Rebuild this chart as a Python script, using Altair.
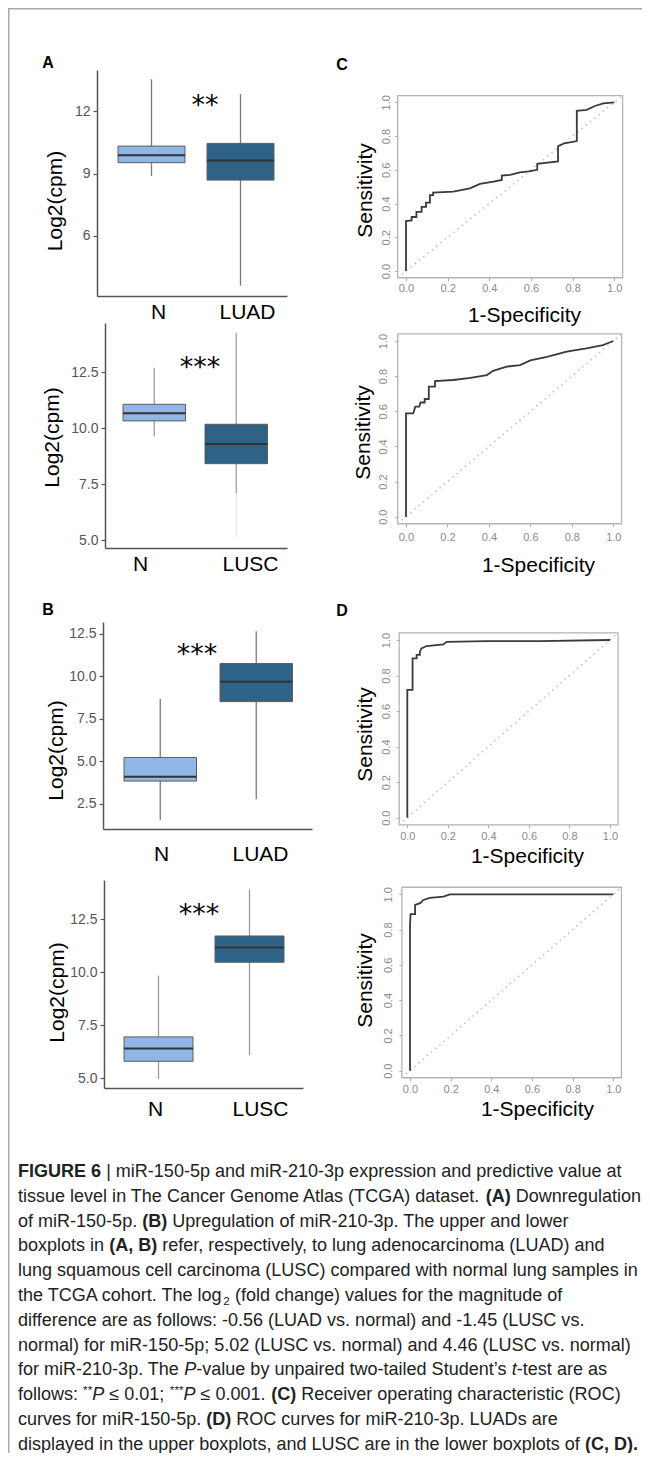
import altair as alt
import pandas as pd

# ---------------------------------------------------------------- data
# (A) miR-150-5p boxplots: upper N vs LUAD, lower N vs LUSC
A1_CATS = ["N", "LUAD"]
A1_Q1 = [9.53, 8.69]
A1_MED = [9.89, 9.63]
A1_Q3 = [10.33, 10.46]
A1_LO = [8.89, 3.60]
A1_HI = [13.55, 12.84]
A1_TICKS = [6, 9, 12]

A2_CATS = ["N", "LUSC"]
A2_Q1 = [10.33, 8.42]
A2_MED = [10.67, 9.30]
A2_Q3 = [11.07, 10.18]
A2_LO = [9.63, 7.10]
A2_HI = [12.70, 14.27]
A2_TAIL_CAT = ["LUSC"]
A2_TAIL_LO = [5.16]
A2_TAIL_HI = [7.10]
A2_TICKS = [5.0, 7.5, 10.0, 12.5]

# (B) miR-210-3p boxplots
B1_CATS = ["N", "LUAD"]
B1_Q1 = [3.83, 8.50]
B1_MED = [4.08, 9.67]
B1_Q3 = [5.22, 10.74]
B1_LO = [1.54, 2.77]
B1_HI = [8.67, 12.64]
B1_TICKS = [2.5, 5.0, 7.5, 10.0, 12.5]

B2_CATS = ["N", "LUSC"]
B2_Q1 = [5.80, 10.47]
B2_MED = [6.40, 11.17]
B2_Q3 = [6.95, 11.71]
B2_LO = [4.97, 6.08]
B2_HI = [9.84, 13.90]
B2_TICKS = [5.0, 7.5, 10.0, 12.5]

SIG = ["**", "***", "***", "***"]
LETTERS = ["A", "B", "C", "D"]

# (C) ROC miR-150-5p
C1_FPR = [0, 0, 0.027, 0.027, 0.05, 0.05, 0.075, 0.075, 0.096, 0.096, 0.115, 0.115, 0.13, 0.13,
          0.227, 0.307, 0.355, 0.42, 0.46, 0.46, 0.5, 0.547, 0.59, 0.63, 0.63, 0.73, 0.73,
          0.76, 0.82, 0.82, 0.867, 0.907, 0.947, 1.0]
C1_TPR = [0, 0.296, 0.30, 0.32, 0.32, 0.35, 0.35, 0.38, 0.38, 0.405, 0.405, 0.45, 0.45, 0.465,
          0.47, 0.49, 0.516, 0.53, 0.54, 0.565, 0.57, 0.585, 0.59, 0.60, 0.635, 0.65, 0.74,
          0.757, 0.77, 0.95, 0.955, 0.978, 0.994, 1.0]
C2_FPR = [0, 0, 0.035, 0.045, 0.064, 0.07, 0.09, 0.09, 0.11, 0.11, 0.14, 0.14, 0.228, 0.31,
          0.39, 0.42, 0.486, 0.55, 0.6, 0.68, 0.775, 0.87, 0.95, 1.0]
C2_TPR = [0, 0.588, 0.588, 0.626, 0.626, 0.65, 0.65, 0.67, 0.67, 0.74, 0.74, 0.772, 0.778, 0.79,
          0.806, 0.83, 0.854, 0.863, 0.89, 0.91, 0.94, 0.958, 0.977, 1.0]
# (D) ROC miR-210-3p
D1_FPR = [0, 0, 0.026, 0.026, 0.046, 0.046, 0.062, 0.062, 0.07, 0.095, 0.178, 0.194, 0.39,
          0.655, 1.0]
D1_TPR = [0, 0.719, 0.719, 0.897, 0.897, 0.916, 0.916, 0.934, 0.953, 0.966, 0.975, 0.99, 0.994,
          0.994, 1.0]
D2_FPR = [0, 0, 0.003, 0.025, 0.025, 0.05, 0.066, 0.098, 0.164, 0.197, 1.0]
D2_TPR = [0, 0.826, 0.888, 0.888, 0.94, 0.95, 0.968, 0.98, 0.987, 1.0, 1.0]
ROC_TICKS = [0.0, 0.2, 0.4, 0.6, 0.8, 1.0]
DIAG = [-0.04, 1.04]

CAPTION = [
    [("FIGURE 6", "b"), (" | miR-150-5p and miR-210-3p expression and predictive value at", "r")],
    [("tissue level in The Cancer Genome Atlas (TCGA) dataset. ", "r"), ("(A)", "b"), (" Downregulation", "r")],
    [("of miR-150-5p. ", "r"), ("(B)", "b"), (" Upregulation of miR-210-3p. The upper and lower", "r")],
    [("boxplots in ", "r"), ("(A, B)", "b"), (" refer, respectively, to lung adenocarcinoma (LUAD) and", "r")],
    [("lung squamous cell carcinoma (LUSC) compared with normal lung samples in", "r")],
    [("the TCGA cohort. The log", "r"), ("2", "sub"), (" (fold change) values for the magnitude of", "r")],
    [("difference are as follows: -0.56 (LUAD vs. normal) and -1.45 (LUSC vs.", "r")],
    [("normal) for miR-150-5p; 5.02 (LUSC vs. normal) and 4.46 (LUSC vs. normal)", "r")],
    [("for miR-210-3p. The ", "r"), ("P", "i"), ("-value by unpaired two-tailed Student\u2019s ", "r"),
     ("t", "i"), ("-test are as", "r")],
    [("follows: ", "r"), ("**", "sup"), ("P", "i"), (" \u2264 0.01; ", "r"), ("***", "sup"), ("P", "i"),
     (" \u2264 0.001. ", "r"), ("(C)", "b"), (" Receiver operating characteristic (ROC)", "r")],
    [("curves for miR-150-5p. ", "r"), ("(D)", "b"), (" ROC curves for miR-210-3p. LUADs are", "r")],
    [("displayed in the upper boxplots, and LUSC are in the lower boxplots of ", "r"), ("(C, D).", "b")],
]

# ---------------------------------------------------------------- layout / style
W, H = 634, 1445
M = 8
FONT = "Liberation Sans"
C_N = "#8fb6e4"
C_T = "#2e6286"
AXC = "#555555"


def cx(v):
    return v - M


def cy(v):
    return v - M


BOX_GEOM = [
    dict(xr=(97, 287), yr=(296, 70), ydom=(3.1, 14.0), lefts=(118, 207), bw=67,
         labx=(158, 247), laby=311, title=(55, 200.5), star=(205, 98), wcol="#7a7a7a", fmt="d"),
    dict(xr=(105, 287), yr=(548, 323), ydom=(4.656, 14.70), lefts=(123, 205), bw=62.5,
         labx=(140, 250), laby=563, title=(52, 437), star=(200, 360), wcol="#a0a0a0", fmt=".1f"),
    dict(xr=(103, 312), yr=(829, 622), ydom=(1.015, 13.18), lefts=(124, 220), bw=72.5,
         labx=(161, 260), laby=853, title=(56, 750), star=(197, 647), wcol="#7a7a7a", fmt=".1f"),
    dict(xr=(104, 303), yr=(1088, 880), ydom=(4.54, 14.35), lefts=(124, 215), bw=69,
         labx=(155, 260), laby=1108, title=(57, 992), star=(199, 907), wcol="#9a9a9a", fmt=".1f"),
]

ROC_GEOM = [
    dict(x0=406, x1=614.3, y0=271, y1=102.3, xlab_y=288, ylab_x=385, xt=(524, 315), yt=(365, 190)),
    dict(x0=406, x1=613.3, y0=516.7, y1=341, xlab_y=537, ylab_x=382, xt=(538, 565), yt=(363, 432)),
    dict(x0=407.3, x1=610, y0=817.7, y1=640, xlab_y=836.5, ylab_x=385, xt=(527, 856), yt=(365, 734)),
    dict(x0=410, x1=613.3, y0=1070.7, y1=894.3, xlab_y=1089.5, ylab_x=387, xt=(537, 1109), yt=(365, 980)),
]

LETTER_POS = [(48, 63), (48, 610), (342, 65), (342, 611)]


def band_params(x0, x1, l0, l1, bw):
    span = x1 - x0
    step = l1 - l0
    pi = 1 - bw / step
    po = (span / step - 2 + pi) / 2
    al = (l0 - x0) / (span - step * (2 - pi))
    return pi, po, al


def box_panel(cats, q1, med, q3, lo, hi, ticks, g, tail=None):
    df = pd.DataFrame({"cat": cats, "kind": ["N", "T"], "q1": q1, "med": med, "q3": q3,
                       "lo": lo, "hi": hi})
    x0, x1 = cx(g["xr"][0]), cx(g["xr"][1])
    yb, yt = cy(g["yr"][0]), cy(g["yr"][1])
    pi, po, al = band_params(x0, x1, cx(g["lefts"][0]), cx(g["lefts"][1]), g["bw"])
    xs = alt.Scale(type="band", domain=cats, range=[x0, x1], paddingInner=pi,
                   paddingOuter=po, align=al)
    ys = alt.Scale(type="linear", domain=list(g["ydom"]), range=[yb, yt], nice=False, zero=False)
    xax = alt.Axis(orient="bottom", offset=yb - H, labels=False, ticks=False, domain=True,
                   domainColor=AXC, domainWidth=1.5, title=None, grid=False)
    yax = alt.Axis(orient="left", offset=-x0, values=ticks, format=g["fmt"], domain=True,
                   domainColor=AXC, domainWidth=1.5, ticks=True, tickColor=AXC, tickSize=4,
                   tickWidth=1.2, labelFont=FONT, labelFontSize=14, labelColor="#555555",
                   labelPadding=3, labelAlign="right", labelBaseline="middle", labelFlush=False,
                   grid=False, title="Log2(cpm)", titleFont=FONT, titleFontSize=21,
                   titleFontWeight="normal", titleColor="black", titleAngle=270,
                   titleAlign="center", titleBaseline="middle",
                   titleX=cx(g["title"][0]) - x0, titleY=cy(g["title"][1]))
    base = alt.Chart(df)
    parts = [base.mark_rule(color=g["wcol"], strokeWidth=1.3).encode(
        x=alt.X("cat:N", scale=xs, axis=xax),
        y=alt.Y("lo:Q", scale=ys, axis=yax),
        y2="hi:Q")]
    if tail is not None:
        tdf = pd.DataFrame({"cat": tail[0], "lo": tail[1], "hi": tail[2]})
        parts.append(alt.Chart(tdf).mark_rule(color="#dddddd", strokeWidth=1).encode(
            x=alt.X("cat:N", scale=xs, axis=None),
            y=alt.Y("lo:Q", scale=ys, axis=None),
            y2="hi:Q"))
    parts.append(base.mark_bar(stroke="#5e5e5e", strokeWidth=1).encode(
        x=alt.X("cat:N", scale=xs, axis=None),
        y=alt.Y("q1:Q", scale=ys, axis=None),
        y2="q3:Q",
        color=alt.Color("kind:N", scale=alt.Scale(domain=["N", "T"], range=[C_N, C_T]),
                        legend=None)))
    parts.append(base.mark_tick(orient="horizontal", size=g["bw"], thickness=2,
                                color="#333333", opacity=1).encode(
        x=alt.X("cat:N", scale=xs, axis=None),
        y=alt.Y("med:Q", scale=ys, axis=None)))

    # category labels under the boxes
    ldf = pd.DataFrame({"cat": cats})
    ls = alt.Scale(type="point", domain=cats, range=[cx(g["labx"][0]), cx(g["labx"][1])], padding=0)
    lax = alt.Axis(orient="bottom", offset=yb - H, domain=False, ticks=False, tickSize=0,
                   labelPadding=g["laby"] - g["yr"][0] + 1.2, labelFont=FONT, labelFontSize=21,
                   labelColor="black", labelAngle=0, labelAlign="center", labelBaseline="middle",
                   title=None, grid=False)
    parts.append(alt.Chart(ldf).mark_point(opacity=0).encode(x=alt.X("cat:N", scale=ls, axis=lax)))
    return parts


def roc_panel(fpr, tpr, g):
    ux = g["x1"] - g["x0"]
    uy = g["y0"] - g["y1"]
    x0 = cx(g["x0"] - 0.04 * ux)
    x1 = cx(g["x1"] + 0.04 * ux)
    yb = cy(g["y0"] + 0.04 * uy)
    yt = cy(g["y1"] - 0.04 * uy)
    xs = alt.Scale(domain=[-0.04, 1.04], range=[x0, x1], nice=False, zero=False)
    ys = alt.Scale(domain=[-0.04, 1.04], range=[yb, yt], nice=False, zero=False)
    xax = alt.Axis(orient="bottom", offset=yb - H, values=ROC_TICKS, format=".1f", domain=False,
                   ticks=True, tickSize=3, tickColor="#aaaaaa", labelFont=FONT,
                   labelFontSize=11, labelColor="#8a8a8a", labelBaseline="middle",
                   labelAlign="center", labelPadding=max(0, cy(g["xlab_y"]) - yb - 3),
                   labelFlush=False, grid=False, title="1-Specificity", titleFont=FONT,
                   titleFontSize=21, titleFontWeight="normal", titleColor="black",
                   titleAlign="center", titleBaseline="middle",
                   titleX=cx(g["xt"][0]), titleY=cy(g["xt"][1]) - yb)
    yax = alt.Axis(orient="left", offset=-x0, values=ROC_TICKS, format=".1f", domain=False,
                   ticks=True, tickSize=3, tickColor="#aaaaaa", labelFont=FONT,
                   labelFontSize=11, labelColor="#8a8a8a", labelAngle=270,
                   labelAlign="center", labelBaseline="bottom",
                   labelPadding=max(0, x0 - cx(g["ylab_x"]) - 6.1 - 3),
                   labelFlush=False, grid=False, title="Sensitivity", titleFont=FONT,
                   titleFontSize=21, titleFontWeight="normal", titleColor="black",
                   titleAngle=270, titleAlign="center", titleBaseline="middle",
                   titleX=cx(g["yt"][0]) - x0, titleY=cy(g["yt"][1]))
    fdf = pd.DataFrame({"a": [DIAG[0]], "b": [DIAG[1]]})
    frame = alt.Chart(fdf).mark_rect(fillOpacity=0, stroke="#b3b3b3", strokeWidth=1.3).encode(
        x=alt.X("a:Q", scale=xs, axis=xax), x2="b:Q",
        y=alt.Y("a:Q", scale=ys, axis=yax), y2="b:Q")
    ddf = pd.DataFrame({"d": DIAG})
    diag = alt.Chart(ddf).mark_line(color="#bdbdbd", strokeWidth=1.5, strokeDash=[1.5, 4]).encode(
        x=alt.X("d:Q", scale=xs, axis=None), y=alt.Y("d:Q", scale=ys, axis=None))
    cdf = pd.DataFrame({"fpr": fpr, "tpr": tpr, "i": list(range(len(fpr)))})
    curve = alt.Chart(cdf).mark_line(color="#3a3a3a", strokeWidth=1.8).encode(
        x=alt.X("fpr:Q", scale=xs, axis=None), y=alt.Y("tpr:Q", scale=ys, axis=None),
        order="i:Q")
    return [frame, diag, curve]


def note(text, x, y, size, weight="normal", font=FONT, baseline="middle", color="black"):
    return alt.Chart(pd.DataFrame({"t": [text]})).mark_text(
        font=font, fontSize=size, fontWeight=weight, align="center", baseline=baseline,
        color=color).encode(x=alt.value(x), y=alt.value(y), text="t:N")


# ---------------------------------------------------------------- caption metrics
REG = {' ': 278, '!': 278, '"': 355, '#': 556, '$': 556, '%': 889, '&': 667, "'": 191, '(': 333,
       ')': 333, '*': 389, '+': 584, ',': 278, '-': 333, '.': 278, '/': 278, ':': 278, ';': 278,
       '<': 584, '=': 584, '>': 584, '?': 556, '@': 1015, '[': 278, ']': 278, '|': 260,
       '\u2019': 222, '\u2264': 584}
for ch in "0123456789":
    REG[ch] = 556
REG.update(dict(A=667, B=667, C=722, D=722, E=667, F=611, G=778, H=722, I=278, J=500, K=667,
                L=556, M=833, N=722, O=778, P=667, Q=778, R=722, S=667, T=611, U=722, V=667,
                W=944, X=667, Y=667, Z=611))
REG.update(dict(a=556, b=556, c=500, d=556, e=556, f=278, g=556, h=556, i=222, j=222, k=500,
                l=222, m=833, n=556, o=556, p=556, q=556, r=333, s=500, t=278, u=556, v=500,
                w=722, x=500, y=500, z=500))
BOLD = {' ': 278, '(': 333, ')': 333, ',': 278, '.': 278, '6': 556, 'A': 722, 'B': 722,
        'C': 722, 'D': 722, 'E': 667, 'F': 611, 'G': 778, 'I': 278, 'R': 722, 'U': 722}
SMALL = 0.65


def seg_em(s, style):
    tbl = BOLD if style == "b" else REG
    k = SMALL if style in ("sub", "sup") else 1.0
    return sum(tbl.get(c, 556) for c in s) / 1000.0 * k


line_em = [sum(seg_em(s, st) for s, st in line) for line in CAPTION]
CAP_FS = min(623.0 / e for e in line_em)
CAP_X0 = cx(18)
CAP_Y0 = cy(1172)
CAP_DY = 24.8

rows = {"r": [], "b": [], "i": [], "sub": [], "sup": []}
for li, line in enumerate(CAPTION):
    xpos = CAP_X0
    ybase = CAP_Y0 + li * CAP_DY
    for s, st in line:
        stripped = s.lstrip(" ")
        lead = seg_em(s[: len(s) - len(stripped)], st) * CAP_FS
        yy = ybase
        if st == "sub":
            yy = ybase + 0.3 * CAP_FS
        elif st == "sup":
            yy = ybase - 0.3 * CAP_FS
        rows[st].append({"x": xpos + lead, "y": yy, "t": stripped})
        xpos += seg_em(s, st) * CAP_FS


def cap_layer(st, size, weight="normal", style="normal"):
    return alt.Chart(pd.DataFrame(rows[st])).mark_text(
        align="left", baseline="middle", font=FONT, fontSize=size, fontWeight=weight,
        fontStyle=style, color="#222222").encode(
        x=alt.X("x:Q", scale=None), y=alt.Y("y:Q", scale=None), text="t:N")


# ---------------------------------------------------------------- assemble
layers = []
layers += box_panel(A1_CATS, A1_Q1, A1_MED, A1_Q3, A1_LO, A1_HI, A1_TICKS, BOX_GEOM[0])
layers += box_panel(A2_CATS, A2_Q1, A2_MED, A2_Q3, A2_LO, A2_HI, A2_TICKS, BOX_GEOM[1],
                    tail=(A2_TAIL_CAT, A2_TAIL_LO, A2_TAIL_HI))
layers += box_panel(B1_CATS, B1_Q1, B1_MED, B1_Q3, B1_LO, B1_HI, B1_TICKS, BOX_GEOM[2])
layers += box_panel(B2_CATS, B2_Q1, B2_MED, B2_Q3, B2_LO, B2_HI, B2_TICKS, BOX_GEOM[3])
layers += roc_panel(C1_FPR, C1_TPR, ROC_GEOM[0])
layers += roc_panel(C2_FPR, C2_TPR, ROC_GEOM[1])
layers += roc_panel(D1_FPR, D1_TPR, ROC_GEOM[2])
layers += roc_panel(D2_FPR, D2_TPR, ROC_GEOM[3])

for s, g in zip(SIG, BOX_GEOM):
    layers.append(note(s, cx(g["star"][0]), cy(g["star"][1]) + 16, 27, font="DejaVu Sans",
                       baseline="alphabetic"))
for s, (lx, ly) in zip(LETTERS, LETTER_POS):
    layers.append(note(s, cx(lx), cy(ly), 16, weight="bold"))

one = pd.DataFrame({"k": [0]})
layers.append(alt.Chart(one).mark_rule(color="#a8a8a8", strokeWidth=1.5).encode(
    x=alt.value(0), x2=alt.value(W), y=alt.value(0.75)))
layers.append(alt.Chart(one).mark_rule(color="#a8a8a8", strokeWidth=1.5).encode(
    x=alt.value(0.75), y=alt.value(0), y2=alt.value(H)))

layers.append(cap_layer("r", CAP_FS))
layers.append(cap_layer("b", CAP_FS, weight="bold"))
layers.append(cap_layer("i", CAP_FS, style="italic"))
layers.append(cap_layer("sub", CAP_FS * SMALL))
layers.append(cap_layer("sup", CAP_FS * SMALL))

chart = alt.layer(*layers).resolve_scale(x="independent", y="independent").properties(
    width=W, height=H, padding=0, autosize=alt.AutoSizeParams(type="none")
).configure_view(strokeWidth=0).configure_axis(grid=False)

chart.save("out.html", embed_options={"renderer": "svg", "actions": False})
